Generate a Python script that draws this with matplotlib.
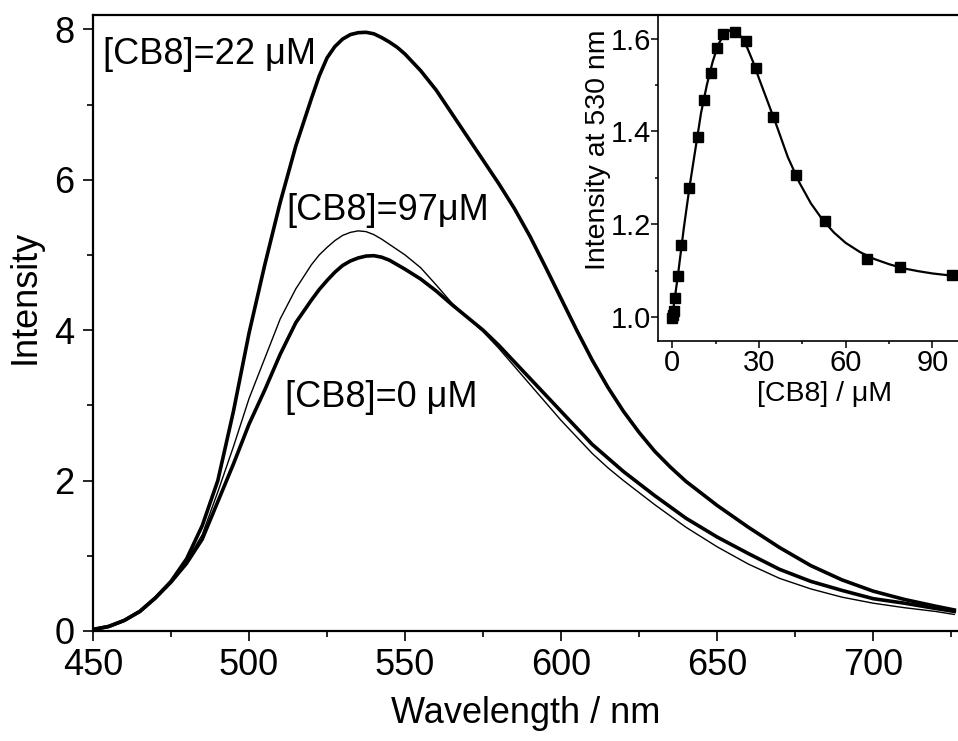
import numpy as np
import matplotlib
matplotlib.use("Agg")
import matplotlib.pyplot as plt
from matplotlib.ticker import MultipleLocator, FormatStrFormatter

plt.rcParams['font.family'] = ['Liberation Sans', 'DejaVu Sans']

# emission spectra
wavelength = [450, 455, 460, 465, 470, 475, 480, 485, 490, 495, 500, 505, 510, 515,
              520, 522.5, 525, 527.5, 530, 532.5, 535, 537.5, 540, 542.5, 545, 547.5,
              550, 555, 560, 565, 570, 575, 580, 585, 590, 595, 600, 605, 610, 615,
              620, 625, 630, 635,
              640, 650, 660, 670, 680, 690, 700, 710, 720, 726]
int_22 = [0.02, 0.06, 0.14, 0.26, 0.44, 0.66, 0.96, 1.40, 2.00, 2.92, 3.96, 4.86, 5.70, 6.45,
          7.08, 7.38, 7.62, 7.77, 7.87, 7.93, 7.955, 7.96, 7.94, 7.89, 7.83, 7.76,
          7.67, 7.45, 7.19, 6.88, 6.57, 6.26, 5.95, 5.62, 5.25, 4.84, 4.42, 4.00, 3.60, 3.24,
          2.92, 2.64, 2.39, 2.18,
          1.99, 1.67, 1.38, 1.11, 0.87, 0.68, 0.53, 0.42, 0.33, 0.28]
int_97 = [0.02, 0.06, 0.14, 0.26, 0.44, 0.65, 0.93, 1.28, 1.85, 2.45, 3.09, 3.62, 4.15, 4.55,
          4.87, 5.00, 5.10, 5.19, 5.26, 5.30, 5.32, 5.31, 5.27, 5.21, 5.14, 5.07,
          5.00, 4.83, 4.60, 4.36, 4.17, 3.98, 3.76, 3.52, 3.28, 3.04, 2.80, 2.58, 2.36, 2.17,
          2.00, 1.84, 1.68, 1.53,
          1.38, 1.12, 0.89, 0.70, 0.56, 0.45, 0.37, 0.31, 0.26, 0.22]
int_0 = [0.02, 0.06, 0.14, 0.26, 0.44, 0.65, 0.90, 1.22, 1.72, 2.22, 2.75, 3.20, 3.68, 4.10,
         4.40, 4.54, 4.66, 4.77, 4.86, 4.92, 4.96, 4.985, 4.99, 4.97, 4.93, 4.87,
         4.81, 4.68, 4.52, 4.34, 4.17, 4.00, 3.80, 3.58, 3.36, 3.14, 2.92, 2.70, 2.48, 2.30,
         2.12, 1.96, 1.80, 1.65,
         1.50, 1.25, 1.03, 0.82, 0.66, 0.54, 0.43, 0.37, 0.30, 0.26]

# inset: titration at 530 nm
cb8 = [0, 0.3, 0.6, 0.9, 1.9, 3.2, 6.0, 8.8, 10.9, 13.4, 15.6, 17.7, 21.7,
       25.5, 28.9, 35.0, 42.7, 52.9, 67.3, 78.8, 96.9]
rel_int = [0.997, 1.005, 1.012, 1.040, 1.088, 1.155, 1.279, 1.389, 1.468,
           1.527, 1.579, 1.611, 1.614, 1.596, 1.536, 1.432, 1.306, 1.206,
           1.126, 1.108, 1.091]
fit_x = [0, 1, 2, 4, 6, 8, 10, 12, 14, 16, 18, 20, 22, 24, 26, 28, 30, 33, 36,
         40, 44, 48, 52, 56, 60, 65, 70, 75, 80, 85, 90, 97]
fit_y = [1.0, 1.045, 1.09, 1.19, 1.28, 1.36, 1.44, 1.50, 1.55, 1.588, 1.61,
         1.618, 1.616, 1.603, 1.58, 1.55, 1.515, 1.465, 1.415, 1.345, 1.29,
         1.245, 1.21, 1.182, 1.16, 1.14, 1.125, 1.114, 1.105, 1.099, 1.094, 1.089]

fig = plt.figure(figsize=(9.58, 7.41), dpi=100)
ax = fig.add_axes([93/958, 1 - 631/741, (958-93)/958, (631-15)/741])

ax.plot(wavelength, int_0, color='black', lw=2.6)
ax.plot(wavelength, int_97, color='black', lw=1.0)
ax.plot(wavelength, int_22, color='black', lw=2.6)

ax.set_xlim(450, 727.2)
ax.set_ylim(0, 8.19)
ax.xaxis.set_major_locator(MultipleLocator(50))
ax.xaxis.set_minor_locator(MultipleLocator(25))
ax.yaxis.set_major_locator(MultipleLocator(2))
ax.yaxis.set_minor_locator(MultipleLocator(1))
ax.tick_params(which='both', direction='out', width=1.2, labelsize=26,
               top=False, right=False)
ax.tick_params(which='major', length=7.5)
ax.tick_params(which='minor', length=4)
ax.tick_params(axis='x', pad=5)
ax.tick_params(axis='y', pad=6)
for s in ax.spines.values():
    s.set_linewidth(1.6)
ax.spines['right'].set_visible(False)
ax.set_xlabel('Wavelength / nm', fontsize=26, labelpad=9)
ax.set_ylabel('Intensity', fontsize=26)
ax.yaxis.set_label_coords(-0.058, 0.542)

ax.text(453.2, 7.66, '[CB8]=22 μM', fontsize=26, va='center', ha='left')
ax.text(512.1, 5.59, '[CB8]=97μM', fontsize=26, va='center', ha='left')
ax.text(511.5, 3.10, '[CB8]=0 μM', fontsize=26, va='center', ha='left')

# inset
ins = fig.add_axes([657.7/958, 1 - 340.7/741, (958-657.7)/958, (340.7-15)/741])
ins.patch.set_alpha(0)
ins.plot(fit_x, fit_y, color='black', lw=1.6)
ins.plot(cb8, rel_int, 's', color='black', ms=7)
ins.set_xlim(-5, 98.9)
ins.set_ylim(0.949, 1.651)
ins.xaxis.set_major_locator(MultipleLocator(30))
ins.xaxis.set_minor_locator(MultipleLocator(15))
ins.yaxis.set_major_locator(MultipleLocator(0.2))
ins.yaxis.set_minor_locator(MultipleLocator(0.1))
ins.yaxis.set_major_formatter(FormatStrFormatter('%.1f'))
ins.tick_params(which='both', direction='out', width=1.1, labelsize=21,
                top=False, right=False, pad=1)
ins.tick_params(axis='y', pad=0)
ins.tick_params(which='major', length=5)
ins.tick_params(which='minor', length=2.5)
ins.spines['top'].set_visible(False)
ins.spines['right'].set_visible(False)
for s in ('left', 'bottom'):
    ins.spines[s].set_linewidth(1.2)
ins.set_xlabel('[CB8] / μM', fontsize=20.5)
ins.set_ylabel('Intensity at 530 nm', fontsize=20.5)
ins.xaxis.set_label_coords(0.557, -0.125)
ins.yaxis.set_label_coords(-0.154, 0.586)

fig.savefig('out.png', dpi=100)
